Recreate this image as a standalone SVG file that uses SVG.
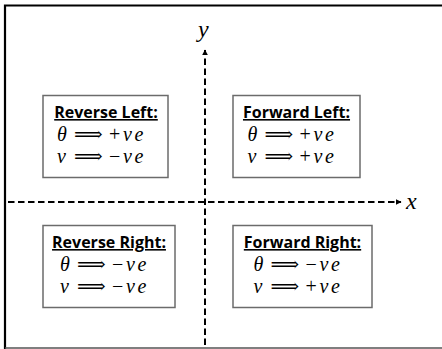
<svg xmlns="http://www.w3.org/2000/svg" width="442" height="349" viewBox="0 0 442 349">
<style>
.box{fill:#fff;stroke:#6b6b6b;stroke-width:1.5}
.title{font-family:"Open Sans","Liberation Sans",sans-serif;font-weight:bold;font-size:16px;text-decoration:underline;text-anchor:middle;fill:#000}
.math{font-family:"Liberation Serif","DejaVu Serif",serif;font-size:20px;fill:#000}
.it{font-style:italic}
.arr{font-family:"DejaVu Serif","Liberation Serif",serif;font-size:20px}
.axis{stroke:#000;stroke-width:2;stroke-dasharray:6.5,3.5;fill:none}
.lbl{font-family:"Liberation Serif","DejaVu Serif",serif;font-style:italic;font-size:24px;fill:#000}
</style>
<defs>
<marker id="ah" viewBox="0 0 10 10" refX="9" refY="5" markerWidth="3" markerHeight="3" orient="auto" markerUnits="strokeWidth">
<path d="M0,0 L10,5 L0,10 z" fill="#000"/>
</marker>
</defs>
<rect x="0" y="0" width="442" height="349" fill="#fff"/>
<path d="M5,349 V5.5 H442" fill="none" stroke="#000" stroke-width="2.2"/>
<path d="M5,348 H442" fill="none" stroke="#555" stroke-width="1.5"/>
<g id="connectors">
<path class="axis" d="M8,202 H401" marker-end="url(#ah)"/>
<path class="axis" d="M205,345 V50" marker-end="url(#ah)"/>
</g>
<g id="labels">
<text class="lbl" x="198" y="37">y</text>
<text class="lbl" x="406" y="209">x</text>
</g>
<g id="reverse-left">
<rect class="box" x="43" y="95.5" width="125" height="82"/>
<text class="title" x="106" y="118">Reverse Left:</text>
<text class="math" y="141"><tspan class="it" x="57">θ</tspan><tspan class="arr" x="74">⟹</tspan><tspan x="109">+</tspan><tspan class="it" x="123">v</tspan><tspan class="it" x="134.5">e</tspan></text>
<text class="math" y="163"><tspan class="it" x="57">v</tspan><tspan class="arr" x="74">⟹</tspan><tspan x="109">−</tspan><tspan class="it" x="123">v</tspan><tspan class="it" x="134.5">e</tspan></text>
</g>
<g id="forward-left">
<rect class="box" x="233" y="95.5" width="127" height="82"/>
<text class="title" x="296.5" y="118">Forward Left:</text>
<text class="math" y="141"><tspan class="it" x="247.5">θ</tspan><tspan class="arr" x="264.5">⟹</tspan><tspan x="299.5">+</tspan><tspan class="it" x="313.5">v</tspan><tspan class="it" x="325">e</tspan></text>
<text class="math" y="163"><tspan class="it" x="247.5">v</tspan><tspan class="arr" x="264.5">⟹</tspan><tspan x="299.5">+</tspan><tspan class="it" x="313.5">v</tspan><tspan class="it" x="325">e</tspan></text>
</g>
<g id="reverse-right">
<rect class="box" x="43" y="225.5" width="132" height="82"/>
<text class="title" x="109" y="248">Reverse Right:</text>
<text class="math" y="271"><tspan class="it" x="60">θ</tspan><tspan class="arr" x="77">⟹</tspan><tspan x="112">−</tspan><tspan class="it" x="126">v</tspan><tspan class="it" x="137.5">e</tspan></text>
<text class="math" y="293"><tspan class="it" x="60">v</tspan><tspan class="arr" x="77">⟹</tspan><tspan x="112">−</tspan><tspan class="it" x="126">v</tspan><tspan class="it" x="137.5">e</tspan></text>
</g>
<g id="forward-right">
<rect class="box" x="233" y="225.5" width="139" height="82"/>
<text class="title" x="302.5" y="248">Forward Right:</text>
<text class="math" y="271"><tspan class="it" x="253.5">θ</tspan><tspan class="arr" x="270.5">⟹</tspan><tspan x="305.5">−</tspan><tspan class="it" x="319.5">v</tspan><tspan class="it" x="331">e</tspan></text>
<text class="math" y="293"><tspan class="it" x="253.5">v</tspan><tspan class="arr" x="270.5">⟹</tspan><tspan x="305.5">+</tspan><tspan class="it" x="319.5">v</tspan><tspan class="it" x="331">e</tspan></text>
</g>
</svg>
